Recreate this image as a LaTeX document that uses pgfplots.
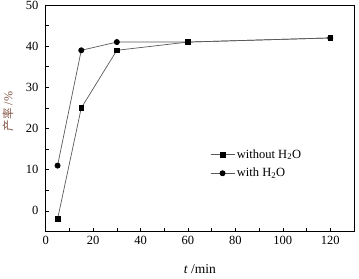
\documentclass[border=0pt]{standalone}
\usepackage{fontspec}
\setmainfont{Liberation Serif}
\newfontfamily\cjk{Noto Sans CJK SC}
\usepackage{pgfplots}
\pgfplotsset{compat=1.18}
\definecolor{lblbrown}{rgb}{0.5,0.32,0.26}
\begin{document}
\fontsize{12.5}{14}\selectfont
\begin{tikzpicture}
\begin{axis}[
  scale only axis,
  width=308.3pt, height=226.5pt,
  xmin=0, xmax=130, ymin=-5, ymax=50,
  xtick={0,20,40,60,80,100,120},
  minor xtick={10,30,50,70,90,110},
  ytick={0,10,20,30,40,50},
  minor ytick={-5,5,15,25,35,45},
  xtick pos=bottom, ytick pos=left,
  tick align=inside,
  major tick length=3pt, minor tick length=3pt,
  tick style={black, line width=0.6pt},
  axis line style={line width=0.8pt},
  /pgf/number format/assume math mode=true,
  ticklabel style={font=\fontsize{12.5}{14}\selectfont},
  yticklabel style={xshift=-3pt},
  xlabel={\textit{t} /min},
  xlabel style={at={(axis description cs:0.5,-0.168)}, anchor=center, font=\fontsize{13.5}{15}\selectfont},
  ylabel={{\cjk\fontsize{11.5}{13}\selectfont 产率} /\%},
  ylabel style={at={(axis description cs:-0.122,0.53)}, anchor=center, color=lblbrown, font=\fontsize{12}{14}\selectfont},
  legend style={at={(axis description cs:0.533,0.372)}, anchor=north west, draw=none, fill=none, row sep=4pt, font=\fontsize{12.5}{14}\selectfont, inner sep=0pt},
  legend cell align=left,
  legend image code/.code={
    \draw[mark repeat=2,mark phase=2,#1] plot coordinates {(0pt,0pt) (12pt,0pt) (24pt,0pt)};
  },
]
\addplot[color=black!65, line width=0.7pt, mark=square*, mark size=2.3pt, mark options={fill=black, draw=black}]
  coordinates {(5,-2) (15,25) (30,39) (60,41) (120,42)};
\addlegendentry{without H\textsubscript{2}O}
\addplot[color=black!65, line width=0.7pt, mark=*, mark size=2.6pt, mark options={fill=black, draw=black}]
  coordinates {(5,11) (15,39) (30,41) (60,41) (120,42)};
\addlegendentry{with H\textsubscript{2}O}
\end{axis}
\pgfresetboundingbox
\path[use as bounding box] ([shift={(-45.7pt,-47.5pt)}]current axis.south west) rectangle ([shift={(5pt,5pt)}]current axis.north east);
\end{tikzpicture}
\end{document}
